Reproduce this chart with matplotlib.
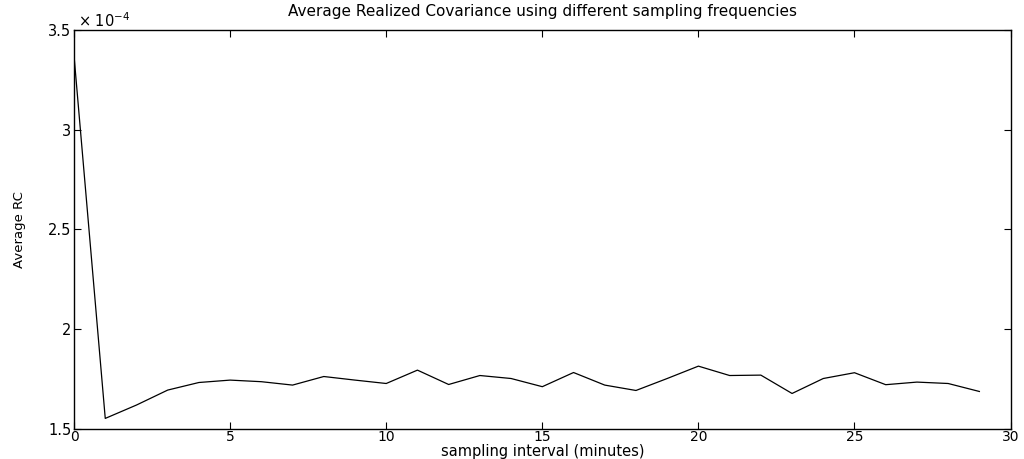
import numpy as np
import matplotlib
matplotlib.use("Agg")
import matplotlib.pyplot as plt
from matplotlib.ticker import FuncFormatter

plt.rcParams['font.family'] = ['DejaVu Sans']
plt.rcParams['mathtext.fontset'] = 'dejavusans'

# sampling interval in minutes, average realized covariance
interval = np.arange(0, 30)
avg_rc = np.array([
    3.37, 1.553, 1.62, 1.695, 1.733, 1.745, 1.737, 1.72, 1.763, 1.745,
    1.728, 1.795, 1.723, 1.768, 1.753, 1.712, 1.783, 1.72, 1.693, 1.753,
    1.815, 1.768, 1.77, 1.678, 1.753, 1.782, 1.722, 1.735, 1.728, 1.688,
]) * 1e-4

fig = plt.figure(figsize=(10.24, 4.59), dpi=100)
ax = fig.add_axes([0.0723, 0.0654, 0.9146, 0.8693])
ax.plot(interval, avg_rc, color='black', linewidth=0.9)

ax.set_xlim(0, 30)
ax.set_ylim(1.5e-4, 3.5e-4)
ax.set_xticks(np.arange(0, 31, 5))
ax.set_yticks(np.arange(1.5e-4, 3.51e-4, 0.5e-4))
ax.yaxis.set_major_formatter(FuncFormatter(lambda v, _: f"{v * 1e4:g}"))
ax.tick_params(direction='in', top=True, right=True, length=5, width=0.8,
               labelsize=10.5, pad=2)
ax.tick_params(axis='x', labelsize=10, pad=0.5)
for s in ax.spines.values():
    s.set_linewidth(1.0)

ax.text(0.004, 1.0, r'$\times$ 10$^{-4}$', transform=ax.transAxes,
        fontsize=10.5, ha='left', va='bottom')
ax.set_title('Average Realized Covariance using different sampling frequencies',
             fontsize=11, pad=10)
ax.set_xlabel('sampling interval (minutes)', fontsize=10.5)
ax.xaxis.set_label_coords(0.5, -0.037)
ax.set_ylabel('Average RC', fontsize=9.5, labelpad=16)

fig.savefig('out.png', dpi=100)
